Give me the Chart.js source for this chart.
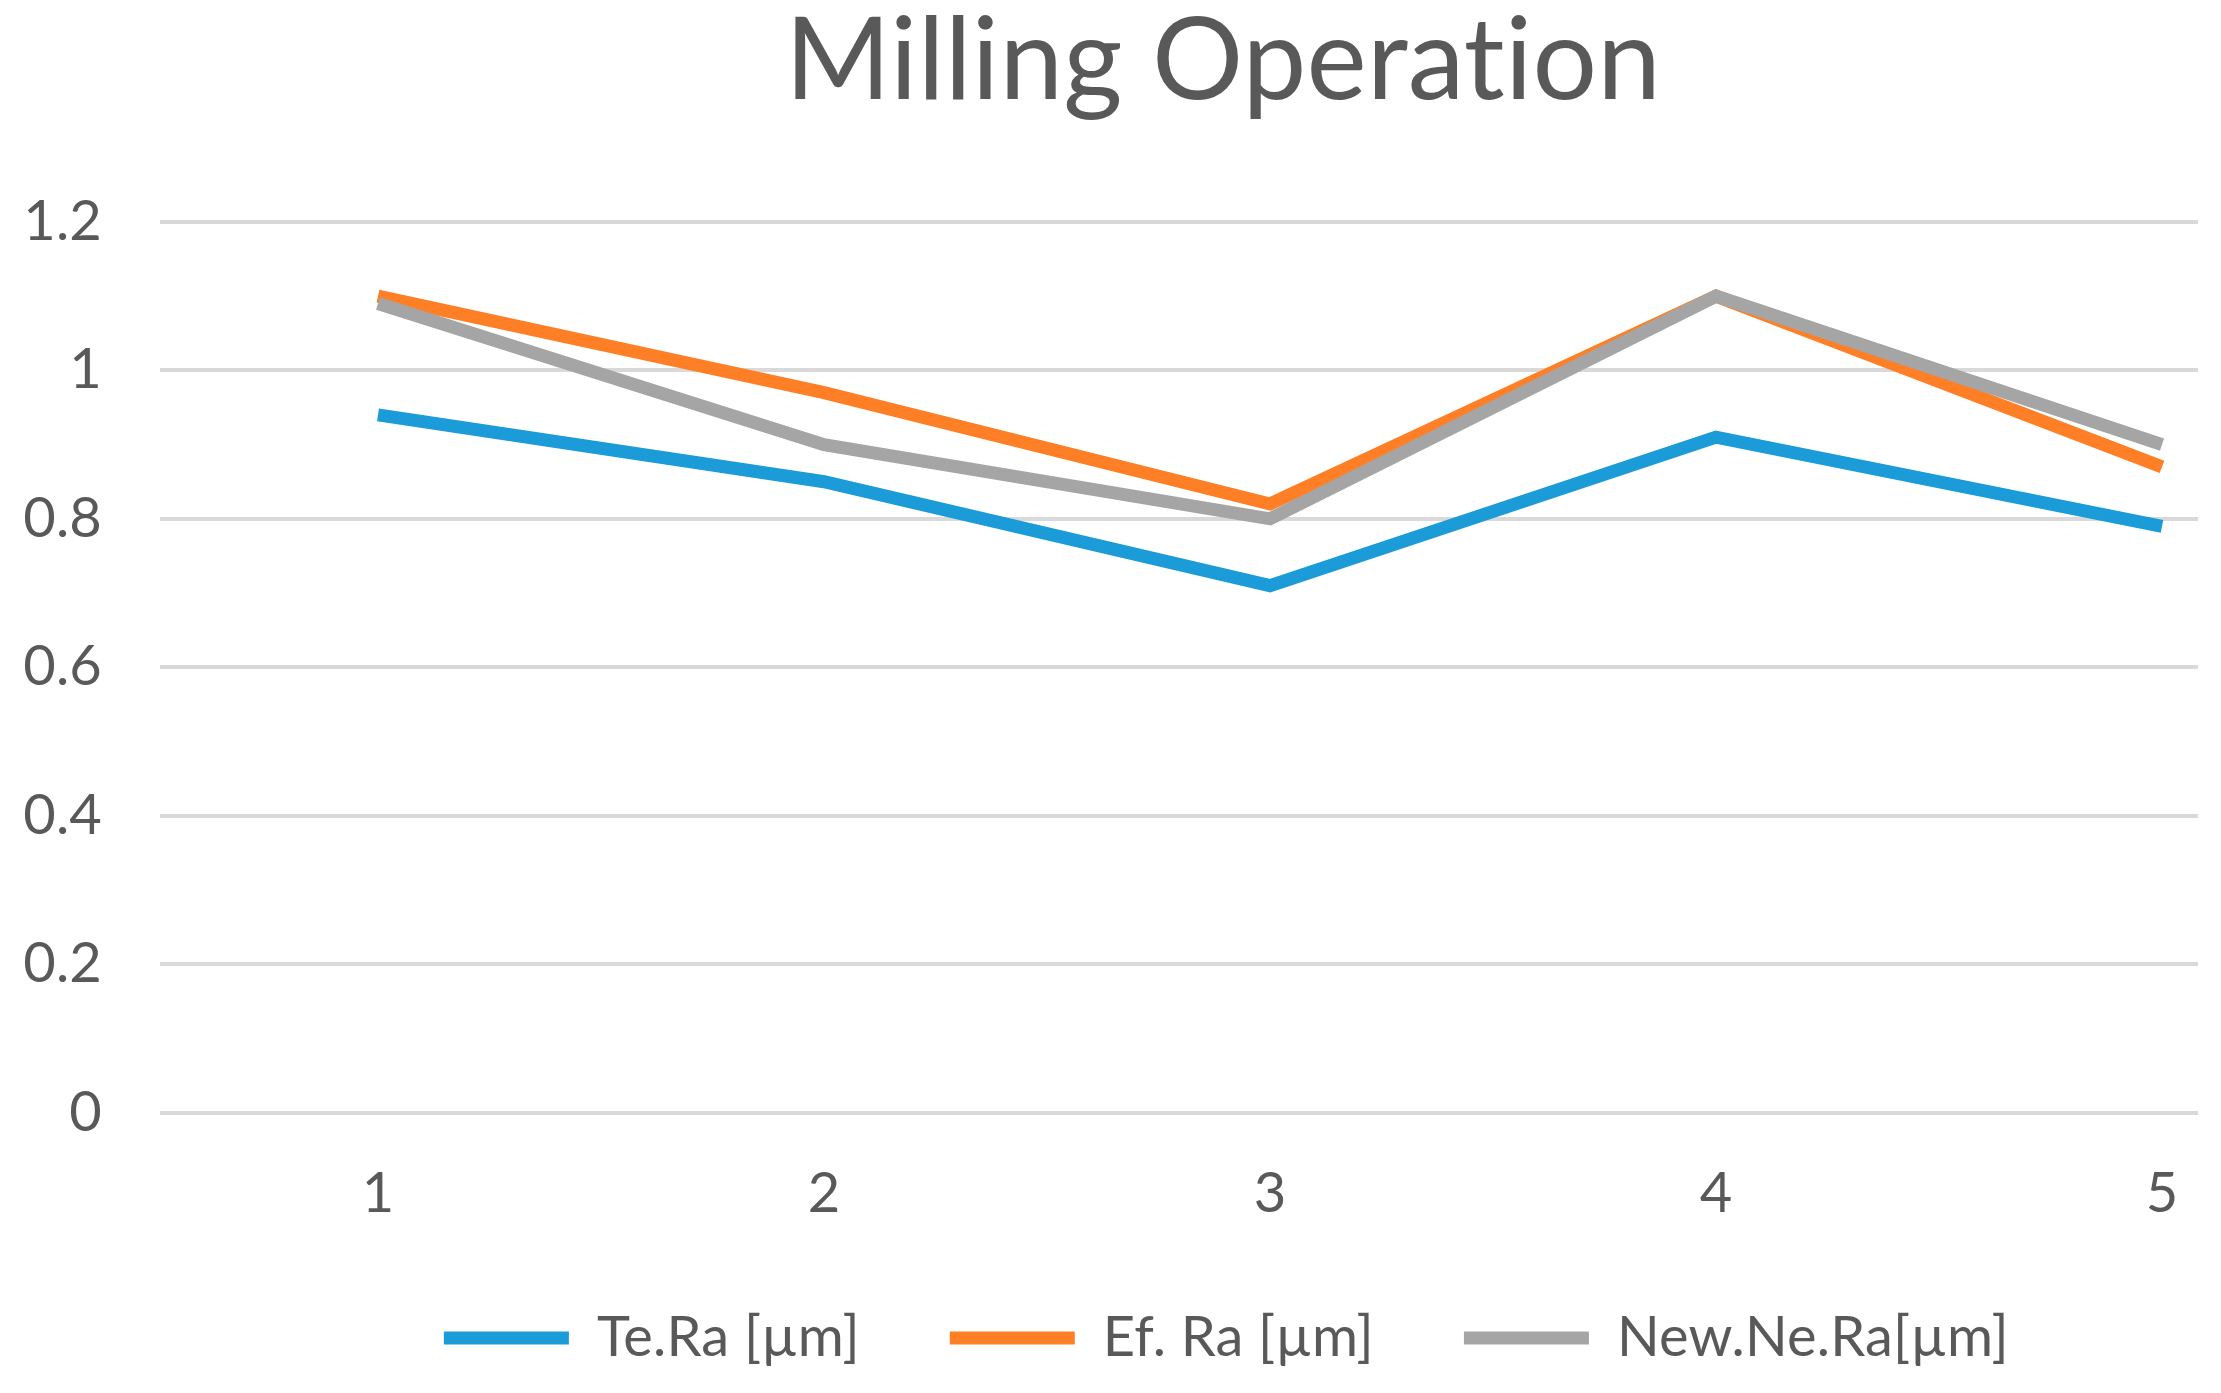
<!DOCTYPE html>
<html>
<head>
<meta charset="utf-8">
<script src="https://cdn.jsdelivr.net/npm/chart.js@4.4.1/dist/chart.umd.min.js"></script>
<style>
html,body{margin:0;padding:0;background:#fff;overflow:hidden}
#wrap{width:2221px;height:1393px;overflow:hidden;position:relative;background:#fff}
canvas{display:block}
</style>
</head>
<body>
<div id="wrap"><canvas id="c" width="2446" height="1376"></canvas></div>
<script>
// ---- data ----
const categories = [1, 2, 3, 4, 5];
const xTickLabels = ['1', '2', '3', '4', '5'];
const teRa = [0.94, 0.85, 0.71, 0.91, 0.79];
const efRa = [1.10, 0.97, 0.82, 1.10, 0.87];
const newNeRa = [1.09, 0.90, 0.80, 1.10, 0.90];
const seriesNames = ['Te.Ra [µm]', 'Ef. Ra [µm]', 'New.Ne.Ra[µm]'];
const yTickLabels = ['0', '0.2', '0.4', '0.6', '0.8', '1', '1.2'];
const chartTitle = 'Milling Operation';

// ---- styles ----
const colors = ['#1b9bd7', '#ff7f27', '#a5a5a5'];
const textColor = '#595959';
const fontFamily = 'Lato, "Open Sans", sans-serif';

const seriesValues = [teRa, efRa, newNeRa];
const drawOrder = [2, 1, 0];

const datasets = seriesValues.map((vals, s) => ({
  label: seriesNames[s],
  data: categories.map((c, i) => ({ x: c, y: vals[i] })),
  borderColor: colors[s],
  backgroundColor: colors[s],
  borderWidth: 13,
  pointRadius: 0,
  pointHoverRadius: 0,
  tension: 0,
  fill: false,
  order: drawOrder[s]
}));

const yTickValues = yTickLabels.map(Number);

const noLigatures = {
  id: 'noLigatures',
  beforeDraw(chart) { try { chart.ctx.letterSpacing = '0.2px'; } catch (e) {} }
};

new Chart(document.getElementById('c'), {
  type: 'line',
  data: { datasets },
  plugins: [noLigatures],
  options: {
    responsive: false,
    animation: false,
    devicePixelRatio: 1,
    events: [],
    layout: { padding: 0 },
    scales: {
      x: {
        type: 'linear',
        min: 0.5112,
        max: 5.0807,
        grid: { display: false, drawTicks: false },
        border: { display: false },
        afterBuildTicks: (scale) => { scale.ticks = categories.map(v => ({ value: v })); },
        afterFit: (scale) => { scale.height = 107.3; },
        ticks: {
          padding: 48,
          color: textColor,
          font: { family: fontFamily, size: 56 },
          maxRotation: 0,
          autoSkip: false,
          callback: (v, i) => xTickLabels[i]
        }
      },
      y: {
        min: 0,
        max: 1.2,
        grid: { color: '#d9d9d9', lineWidth: 4, drawTicks: false },
        border: { display: false },
        afterBuildTicks: (scale) => { scale.ticks = yTickValues.map(v => ({ value: v })); },
        afterFit: (scale) => { scale.width = 160; },
        ticks: {
          padding: 58,
          color: textColor,
          font: { family: fontFamily, size: 56 },
          callback: (v, i) => yTickLabels[i]
        }
      },
      yRight: {
        position: 'right',
        display: true,
        min: 0, max: 1.2,
        grid: { display: false, drawTicks: false },
        border: { display: false },
        ticks: { display: false },
        afterFit: (scale) => { scale.width = 248; }
      }
    },
    plugins: {
      tooltip: { enabled: false },
      title: {
        display: true,
        text: chartTitle,
        color: textColor,
        font: { family: fontFamily, size: 114, weight: 'normal', lineHeight: 1.0 },
        padding: { top: 5.5, bottom: 102.4 }
      },
      legend: {
        display: true,
        position: 'bottom',
        labels: {
          boxWidth: 125,
          boxHeight: 13,
          padding: 90,
          color: textColor,
          font: { family: fontFamily, size: 56 },
          generateLabels: (chart) => {
            const items = Chart.defaults.plugins.legend.labels.generateLabels(chart);
            return items
              .map(it => Object.assign({}, it, { lineWidth: 0, fillStyle: it.strokeStyle }))
              .sort((a, b) => a.datasetIndex - b.datasetIndex);
          }
        }
      }
    }
  }
});
</script>
</body>
</html>
